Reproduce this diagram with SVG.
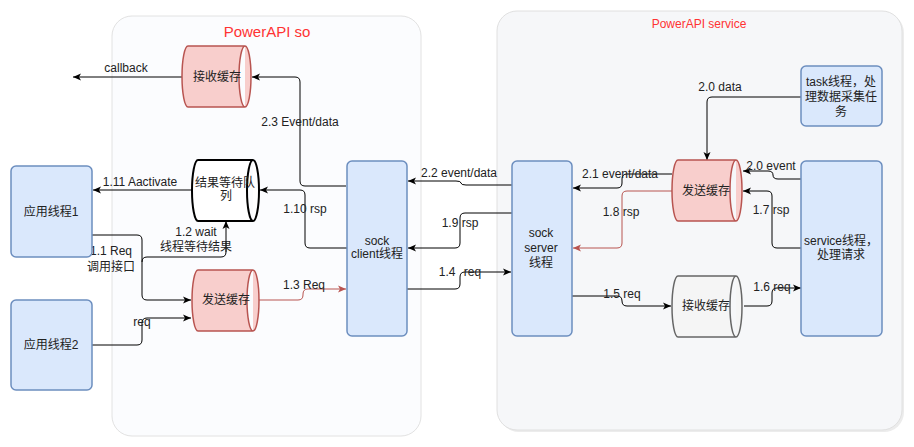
<svg xmlns="http://www.w3.org/2000/svg" width="914" height="447" viewBox="0 0 914 447">
<style>
text{font-family:"Liberation Sans","Noto Sans CJK SC",sans-serif;font-size:12px;fill:#222;text-anchor:middle}
.title{fill:#ff3333}
.box{fill:#dae8fc;stroke:#6c8ebf;stroke-width:1.5}
.cylr{fill:#f8cecc;stroke:#b85450;stroke-width:1.5}
.cylw{fill:#ffffff;stroke:#000000;stroke-width:2}
.cylg{fill:#f5f5f5;stroke:#666666;stroke-width:1.5}
.e{fill:none;stroke:#000;stroke-width:1;marker-end:url(#ab)}
.er{fill:none;stroke:#b85450;stroke-width:1;marker-end:url(#ar)}
</style>
<defs>
<marker id="ab" markerUnits="userSpaceOnUse" markerWidth="10" markerHeight="10" viewBox="0 0 10 10" refX="9" refY="5" orient="auto"><path d="M1,1.5 L9,5 L1,8.5 L3,5 Z" fill="#000"/></marker>
<marker id="ar" markerUnits="userSpaceOnUse" markerWidth="10" markerHeight="10" viewBox="0 0 10 10" refX="9" refY="5" orient="auto"><path d="M1,1.5 L9,5 L1,8.5 L3,5 Z" fill="#b85450"/></marker>
</defs>
<rect width="914" height="447" fill="#ffffff"/>
<g id="container-so">
<rect x="112" y="16" width="309" height="420" rx="20" fill="#fbfcfe" stroke="#e2e2e2" stroke-width="1"/>
<text class="title" x="267" y="37" style="font-size:15px">PowerAPI so</text>
</g>
<g id="container-service">
<rect x="499" y="13" width="405" height="419" rx="20" fill="#ececec"/>
<rect x="497" y="11" width="405" height="419" rx="20" fill="#f6f7f9" stroke="#e0e0e0" stroke-width="1"/>
<text class="title" x="699" y="28">PowerAPI service</text>
</g>
<g id="connectors">
<path class="e" d="M182,77 H73"/>
<text x="126" y="72">callback</text>
<path class="e" d="M346,186 H305 Q300,186 300,181 V82 Q300,77 295,77 H252"/>
<text x="300" y="126">2.3 Event/data</text>
<path class="e" d="M192,190 H93"/>
<text x="140" y="186">1.11 Aactivate</text>
<path class="e" d="M347,248 H310 Q305,248 305,243 V195 Q305,190 300,190 H260"/>
<text x="305" y="213">1.10 rsp</text>
<path class="e" d="M92,235 H137 Q142,235 142,240 V295 Q142,300 147,300 H191"/>
<text x="111" y="255">1.1 Req</text>
<text x="111" y="271">调用接口</text>
<path class="e" d="M142,262 Q142,257 147,257 H221 Q226,257 226,252 V221"/>
<text x="196" y="236">1.2 wait</text>
<text x="196" y="251">线程等待结果</text>
<path class="e" d="M92,345 H137 Q142,345 142,340 V323 Q142,318 147,318 H191"/>
<text x="142" y="326">req</text>
<path class="er" d="M259,300 H298 Q303,300 303,295 V294 Q303,289 308,289 H346"/>
<text x="304" y="289">1.3 Req</text>
<path class="e" d="M512,185 H466 Q461,185 461,183 Q461,181 456,181 H408"/>
<text x="459" y="177">2.2 event/data</text>
<path class="e" d="M512,213 H465 Q460,213 460,218 V243 Q460,248 455,248 H408"/>
<text x="460" y="227">1.9 rsp</text>
<path class="e" d="M407,289 H455 Q460,289 460,284 V277 Q460,272 465,272 H511"/>
<text x="460" y="276" word-spacing="5">1.4 req</text>
<path class="e" d="M672,174 H627 Q622,174 622,179 V183 Q622,188 617,188 H573"/>
<text x="620" y="178">2.1 event/data</text>
<path class="er" d="M672,191 H627 Q622,191 622,196 V243 Q622,248 617,248 H573"/>
<text x="621" y="216">1.8 rsp</text>
<path class="e" d="M572,296 H617 Q622,296 622,301 Q622,306 627,306 H671"/>
<text x="622" y="298">1.5 req</text>
<path class="e" d="M744,306 H767 Q772,306 772,301 V293 Q772,288 777,288 H801"/>
<text x="772" y="291">1.6 req</text>
<path class="e" d="M801,248 H777 Q772,248 772,243 V196 Q772,191 767,191 H743"/>
<text x="771" y="214">1.7 rsp</text>
<path class="e" d="M801,179 H778 Q773,179 773,175 Q773,171 768,171 H743"/>
<text x="771" y="170">2.0 event</text>
<path class="e" d="M801,97 H712 Q707,97 707,102 V160"/>
<text x="720" y="91">2.0 data</text>
</g>
<g id="recv-buffer-so">
<path class="cylr" d="M188,46 H245 A6,30.5 0 0 1 245,107 H188 A6,30.5 0 0 1 188,46 Z M245,46 A6,30.5 0 0 0 245,107"/>
<text x="217" y="81">接收缓存</text>
</g>
<g id="result-queue">
<path class="cylw" d="M198,160 H253 A6,30.5 0 0 1 253,221 H198 A6,30.5 0 0 1 198,160 Z M253,160 A6,30.5 0 0 0 253,221"/>
<text x="225" y="187">结果等待队</text>
<text x="226" y="200">列</text>
</g>
<g id="send-buffer-so">
<path class="cylr" d="M198,270 H253 A6,30.5 0 0 1 253,331 H198 A6,30.5 0 0 1 198,270 Z M253,270 A6,30.5 0 0 0 253,331"/>
<text x="226" y="304">发送缓存</text>
</g>
<g id="app-thread-1">
<rect class="box" x="11" y="166" width="81" height="91" rx="5"/>
<text x="51" y="216">应用线程1</text>
</g>
<g id="app-thread-2">
<rect class="box" x="11" y="300" width="81" height="90" rx="5"/>
<text x="51" y="349">应用线程2</text>
</g>
<g id="sock-client">
<rect class="box" x="347" y="161" width="60" height="175" rx="5"/>
<text x="377" y="245">sock</text>
<text x="377" y="258">client线程</text>
</g>
<g id="sock-server">
<rect class="box" x="512" y="161" width="60" height="175" rx="5"/>
<text x="541" y="237">sock</text>
<text x="541" y="252">server</text>
<text x="541" y="267">线程</text>
</g>
<g id="send-buffer-service">
<path class="cylr" d="M678,160 H736 A6,30.5 0 0 1 736,221 H678 A6,30.5 0 0 1 678,160 Z M736,160 A6,30.5 0 0 0 736,221"/>
<text x="706" y="195">发送缓存</text>
</g>
<g id="recv-buffer-service">
<path class="cylg" d="M678,276 H736 A6,30.5 0 0 1 736,337 H678 A6,30.5 0 0 1 678,276 Z M736,276 A6,30.5 0 0 0 736,337"/>
<text x="706" y="310">接收缓存</text>
</g>
<g id="task-thread">
<rect class="box" x="801" y="66" width="81" height="60" rx="5"/>
<text x="841" y="86">task线程，处</text>
<text x="841" y="101">理数据采集任</text>
<text x="841" y="116">务</text>
</g>
<g id="service-thread">
<rect class="box" x="801" y="161" width="81" height="175" rx="5"/>
<text x="841" y="245">service线程，</text>
<text x="841" y="259">处理请求</text>
</g>
</svg>
